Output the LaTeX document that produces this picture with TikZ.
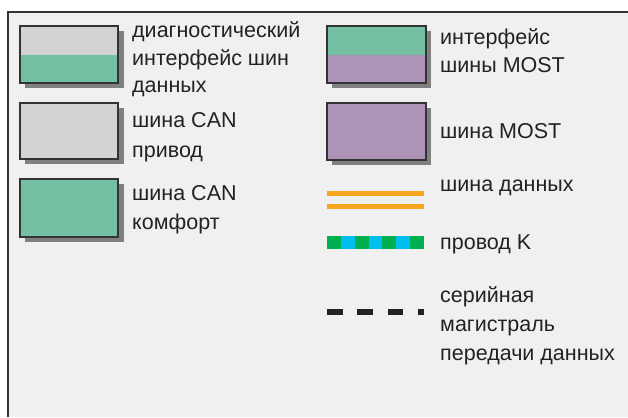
\documentclass[tikz,border=0pt]{standalone}
\usepackage{fontspec}
\setmainfont{Liberation Sans}
\definecolor{bg}{HTML}{F0F0F0}
\definecolor{frame}{HTML}{333333}
\definecolor{boxgray}{HTML}{D2D3D5}
\definecolor{boxgreen}{HTML}{74C0A3}
\definecolor{boxpurple}{HTML}{AD93B7}
\definecolor{shadowgray}{HTML}{808080}
\definecolor{orangebus}{HTML}{F5A623}
\definecolor{kgreen}{HTML}{00B050}
\definecolor{kblue}{HTML}{00BFEF}
\definecolor{txt}{HTML}{222222}
\begin{document}
\begin{tikzpicture}[x=1pt,y=-1pt,
  lbl/.style={anchor=base west,inner sep=0pt,text=txt,font=\fontsize{21.5}{26}\selectfont},
  shadow/.style={fill=shadowgray},
  boxline/.style={draw=frame,line width=1.8pt}]
\useasboundingbox (0,0) rectangle (628,417);
\fill[white] (0,0) rectangle (628,417);
\fill[bg] (8,12) rectangle (628,417);
\draw[frame,line width=2pt] (8,417) -- (8,12) -- (628,12);
% box 1: diagnostic interface
\fill[shadow] (25,31) rectangle (124,88);
\fill[boxgray] (20,26) rectangle (118,55);
\fill[boxgreen] (20,55) rectangle (118,83);
\draw[boxline] (20,26) rectangle (118,83);
% box 2: CAN drive
\fill[shadow] (25,108) rectangle (124,164);
\fill[boxgray] (20,103) rectangle (118,159);
\draw[boxline] (20,103) rectangle (118,159);
% box 3: CAN comfort
\fill[shadow] (25,184) rectangle (124,242);
\fill[boxgreen] (20,179) rectangle (118,237);
\draw[boxline] (20,179) rectangle (118,237);
% box 4: MOST interface
\fill[shadow] (332,31) rectangle (431,88);
\fill[boxgreen] (327,26) rectangle (426,55);
\fill[boxpurple] (327,55) rectangle (426,83);
\draw[boxline] (327,26) rectangle (426,83);
% box 5: MOST
\fill[shadow] (332,108) rectangle (431,165);
\fill[boxpurple] (327,103) rectangle (426,160);
\draw[boxline] (327,103) rectangle (426,160);
% data bus
\draw[orangebus,line width=5pt] (327,193.5) -- (424,193.5);
\draw[orangebus,line width=5pt] (327,206.5) -- (424,206.5);
% K wire
\foreach \i in {0,...,6}{
  \pgfmathsetmacro{\xa}{327+\i*97/7}
  \pgfmathsetmacro{\xb}{327+(\i+1)*97/7}
  \ifodd\i
    \fill[kblue] (\xa,236) rectangle (\xb,249);
  \else
    \fill[kgreen] (\xa,236) rectangle (\xb,249);
  \fi
}
% serial bus
\fill[txt] (327,309) rectangle (343,315);
\fill[txt] (357,309) rectangle (373,315);
\fill[txt] (388,309) rectangle (403,315);
\fill[txt] (418,309) rectangle (424,315);
% labels left
\node[lbl] (l1a) at (132,37.5) {диагностический};
\node[lbl] (l1b) at (132,65.5) {интерфейс шин};
\node[lbl] (l1c) at (132,92.5) {данных};
\node[lbl] (l2a) at (132,128) {шина CAN};
\node[lbl] (l2b) at (132,157) {привод};
\node[lbl] (l3a) at (132,200) {шина CAN};
\node[lbl] (l3b) at (132,229) {комфорт};
% labels right
\node[lbl] (r1a) at (440,45) {интерфейс};
\node[lbl] (r1b) at (440,73) {шины MOST};
\node[lbl] (r2a) at (440,138) {шина MOST};
\node[lbl] (r3a) at (440,191) {шина данных};
\node[lbl] (r4a) at (440,249) {провод K};
\node[lbl] (r5a) at (440,302) {серийная};
\node[lbl] (r5b) at (440,331) {магистраль};
\node[lbl] (r5c) at (440,360) {передачи данных};
\end{tikzpicture}
\end{document}
